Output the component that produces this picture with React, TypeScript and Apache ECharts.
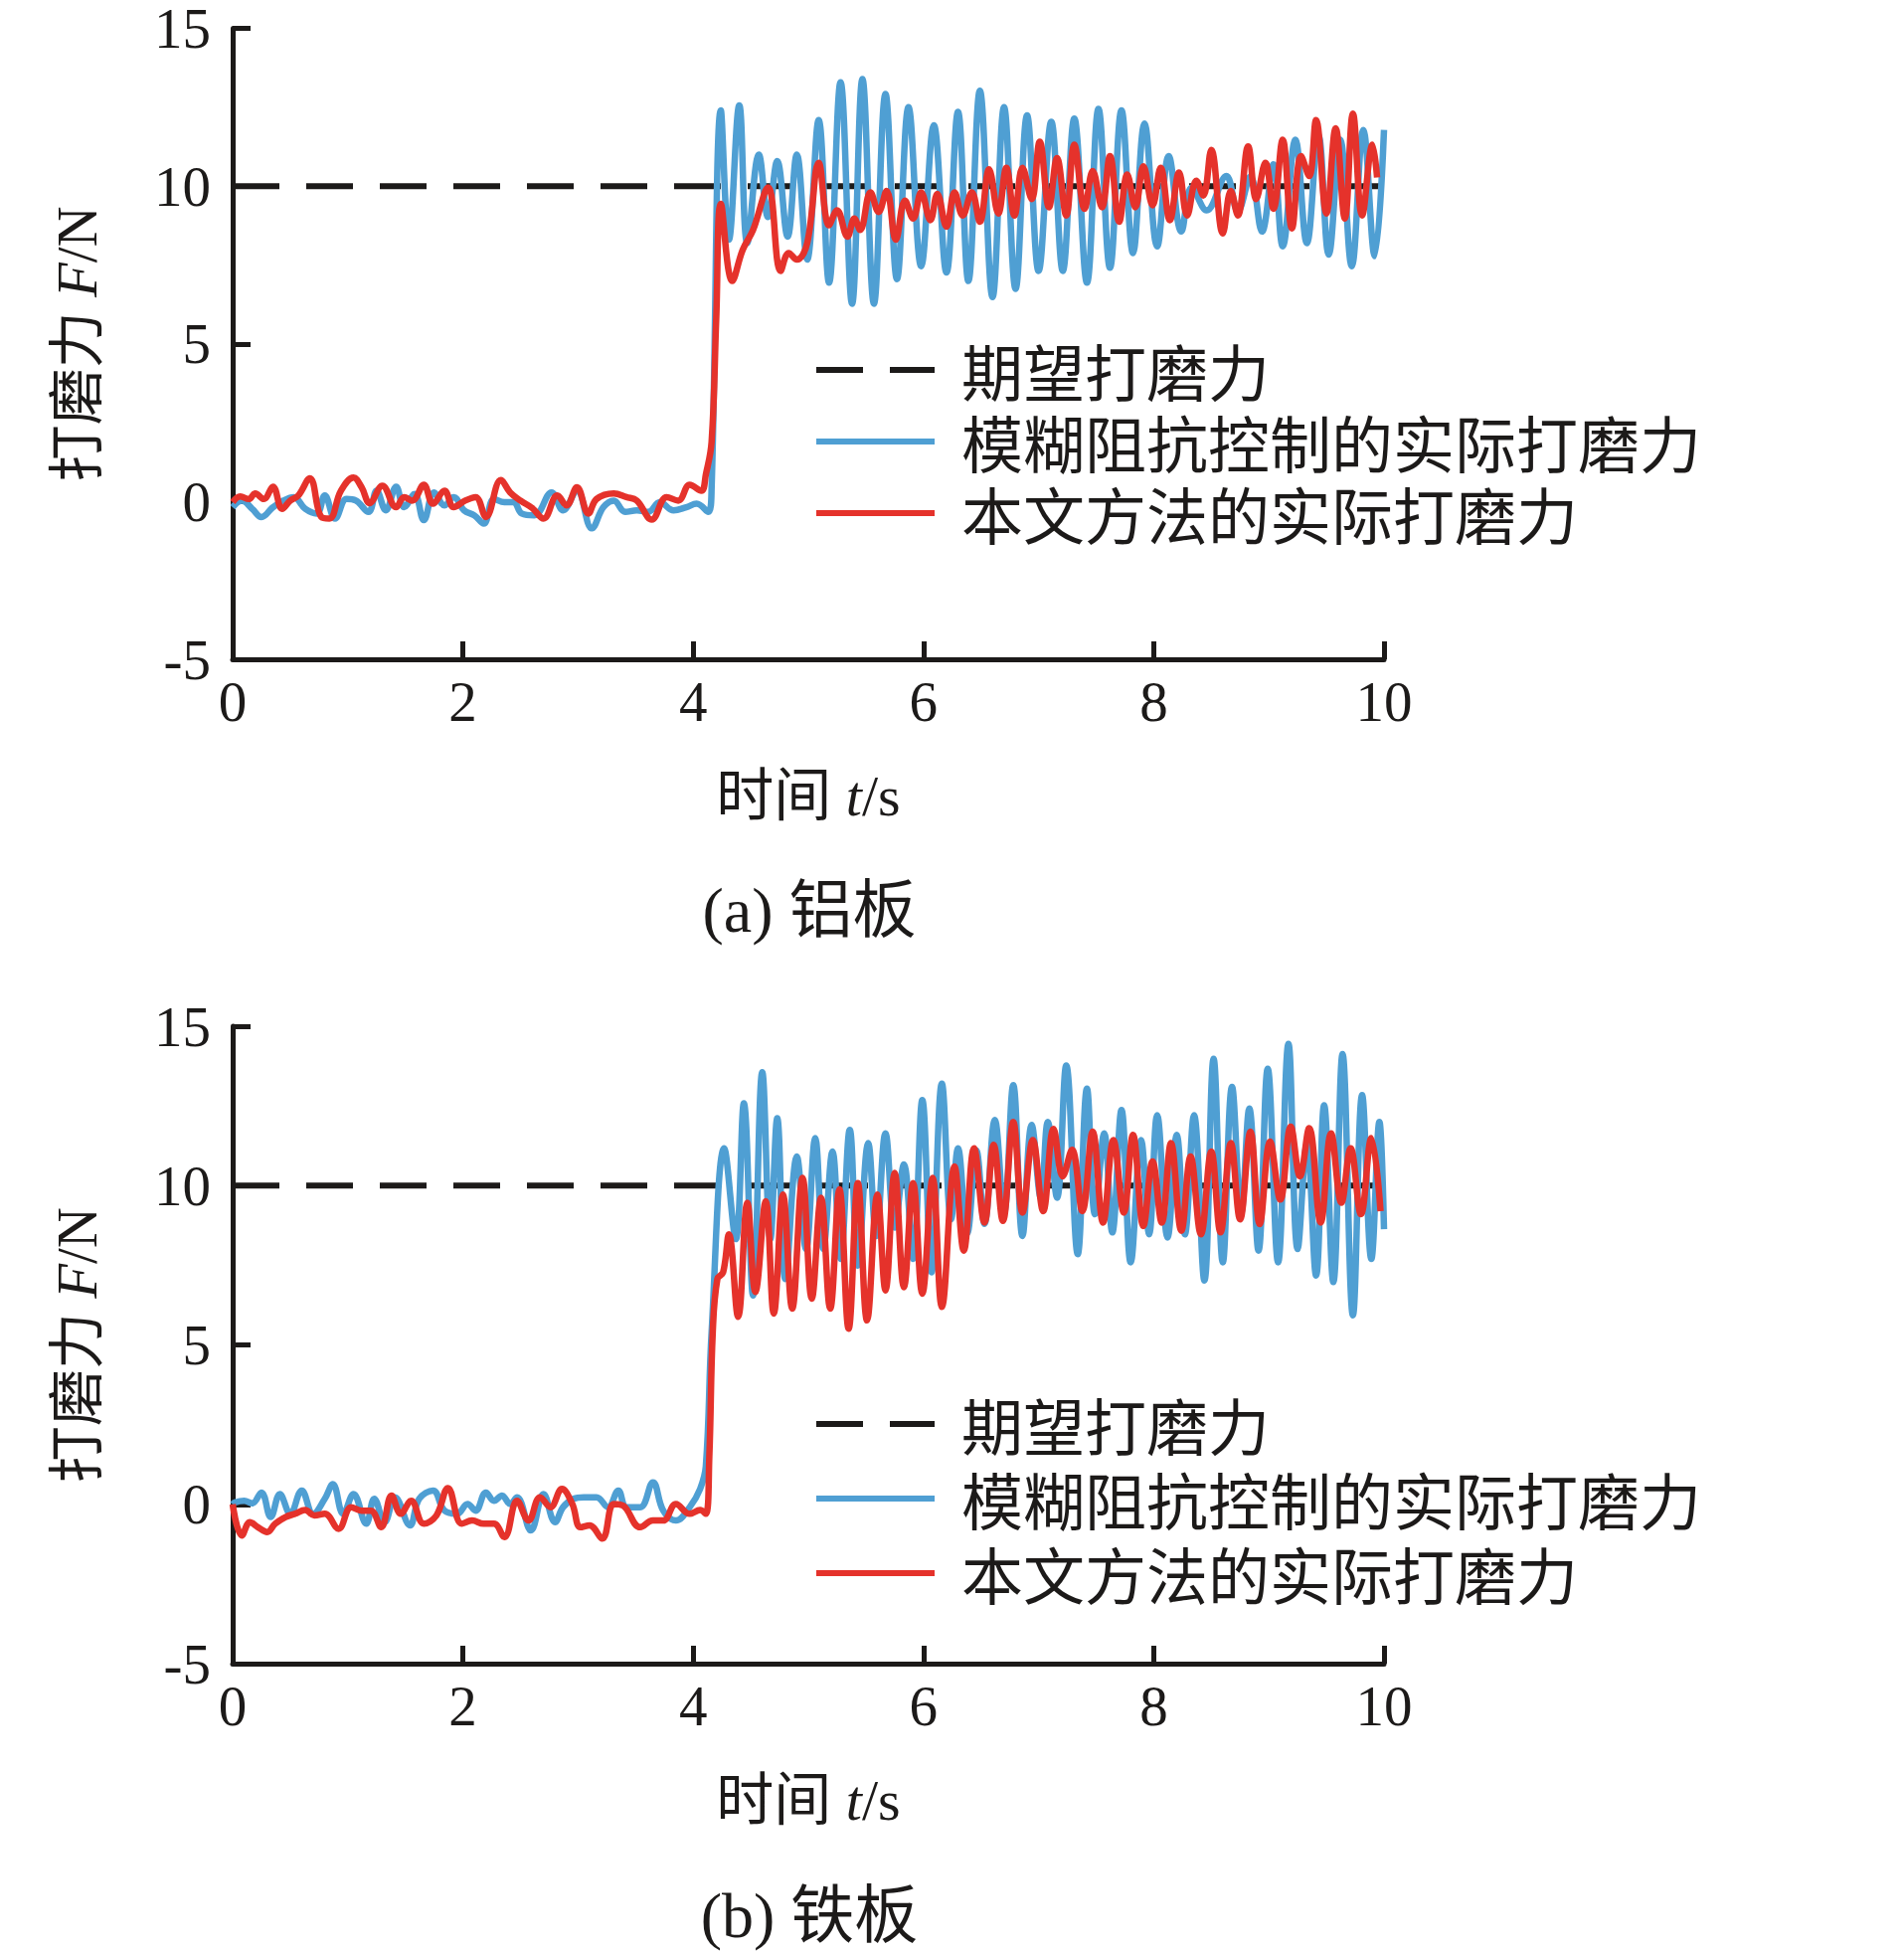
import React, { useEffect, useRef } from "react";
import * as echarts from "echarts";

// ---------- data ----------
const xTickValues = [0, 2, 4, 6, 8, 10];
const yTickValues = [-5, 0, 5, 10, 15];
const seriesNames = ["期望打磨力", "模糊阻抗控制的实际打磨力", "本文方法的实际打磨力"];
const captions = ["(a) 铝板", "(b) 铁板"];

const desiredForce: number[][] = [[0, 10], [10, 10]];

// (a) aluminium plate — fuzzy impedance control (blue)
const aluFuzzy: number[][] = [
  [0, -0.18], [0.08, 0.03], [0.17, -0.23], [0.25, -0.49], [0.35, -0.18], [0.44, 0.03], [0.53, 0.14], [0.63, -0.23],
  [0.73, -0.38], [0.8, 0.19], [0.89, -0.54], [0.99, 0.08], [1.07, 0.03], [1.18, -0.33], [1.25, 0.34], [1.33, -0.28],
  [1.42, 0.47], [1.49, -0.18], [1.58, 0.24], [1.66, -0.59], [1.75, 0.29], [1.84, -0.12], [1.92, 0.14], [2.01, -0.28],
  [2.1, -0.44], [2.18, -0.7], [2.27, 0.08], [2.36, -0.02], [2.44, -0.02], [2.51, -0.38], [2.62, -0.44], [2.77, 0.29],
  [2.87, -0.28], [2.99, 0.34], [3.12, -0.85], [3.22, -0.18], [3.31, 0.03], [3.41, -0.33], [3.51, -0.28], [3.61, -0.33],
  [3.71, -0.02], [3.83, -0.28], [3.94, -0.18], [4.03, -0.07], [4.13, -0.33], [4.16, 0.45], [4.24, 12.4], [4.31, 8.3],
  [4.4, 12.56], [4.47, 8.19], [4.57, 11.0], [4.65, 9.02], [4.73, 10.79], [4.82, 8.4], [4.9, 11.0], [4.99, 7.67],
  [5.09, 12.09], [5.18, 6.94], [5.28, 13.29], [5.38, 6.27], [5.47, 13.39], [5.57, 6.27], [5.67, 12.92], [5.77, 7.05],
  [5.87, 12.5], [5.98, 7.46], [6.09, 11.93], [6.2, 7.26], [6.3, 12.35], [6.39, 6.99], [6.49, 13.02], [6.6, 6.48],
  [6.7, 12.5], [6.8, 6.74], [6.9, 12.24], [7.0, 7.31], [7.11, 12.04], [7.21, 7.31], [7.31, 12.14], [7.42, 6.94],
  [7.52, 12.45], [7.62, 7.41], [7.72, 12.4], [7.82, 7.88], [7.92, 11.98], [8.03, 8.09], [8.13, 10.95], [8.24, 8.56],
  [8.33, 9.96], [8.46, 9.23], [8.63, 10.32], [8.73, 9.2], [8.84, 10.3], [8.94, 8.56], [9.04, 10.69], [9.12, 8.09],
  [9.23, 11.47], [9.33, 8.19], [9.43, 11.62], [9.52, 7.83], [9.62, 11.47], [9.72, 7.46], [9.82, 11.78], [9.92, 7.78],
  [10.0, 11.78],
];

// (a) aluminium plate — proposed method (red)
const aluProposed: number[][] = [
  [0, -0.02], [0.066, 0.16], [0.14, 0.08], [0.196, 0.26], [0.27, 0.08], [0.35, 0.47], [0.43, -0.23], [0.5, 0.03],
  [0.57, 0.19], [0.67, 0.74], [0.77, -0.49], [0.84, -0.54], [0.94, 0.34], [1.05, 0.76], [1.12, 0.45], [1.19, -0.05],
  [1.3, 0.5], [1.42, -0.18], [1.49, 0.14], [1.56, 0.03], [1.66, 0.53], [1.74, -0.07], [1.84, 0.34], [1.92, -0.18],
  [2.02, 0.03], [2.11, 0.14], [2.2, -0.49], [2.33, 0.68], [2.41, 0.29], [2.5, 0.03], [2.6, -0.2], [2.7, -0.54],
  [2.82, 0.19], [2.9, -0.12], [2.99, 0.45], [3.09, -0.38], [3.16, 0.08], [3.31, 0.26], [3.42, 0.14], [3.51, 0.03],
  [3.64, -0.57], [3.77, 0.14], [3.87, 0.03], [3.97, 0.53], [4.07, 0.34], [4.11, 0.86], [4.16, 1.9], [4.2, 5.8],
  [4.24, 9.44], [4.34, 6.99], [4.43, 7.98], [4.52, 8.61], [4.65, 9.96], [4.76, 7.31], [4.83, 7.88], [4.9, 7.67],
  [4.99, 8.19], [5.09, 10.74], [5.18, 8.76], [5.25, 9.23], [5.34, 8.4], [5.4, 8.97], [5.45, 8.61], [5.54, 9.8],
  [5.61, 9.18], [5.68, 9.85], [5.76, 8.3], [5.84, 9.54], [5.91, 8.97], [5.98, 9.8], [6.06, 8.92], [6.12, 9.75],
  [6.2, 8.71], [6.27, 9.8], [6.34, 9.07], [6.42, 9.8], [6.49, 8.87], [6.57, 10.53], [6.65, 9.13], [6.72, 10.58],
  [6.79, 9.07], [6.86, 10.58], [6.94, 9.59], [7.01, 11.41], [7.09, 9.33], [7.16, 10.89], [7.24, 9.07], [7.31, 11.31],
  [7.4, 9.28], [7.47, 10.48], [7.55, 9.33], [7.62, 10.95], [7.7, 8.87], [7.77, 10.37], [7.84, 9.33], [7.91, 10.63],
  [7.99, 9.39], [8.06, 10.58], [8.14, 8.92], [8.22, 10.43], [8.29, 9.07], [8.37, 10.17], [8.43, 9.7], [8.5, 11.15],
  [8.6, 8.5], [8.67, 9.85], [8.73, 9.07], [8.82, 11.26], [8.89, 9.59], [8.97, 10.74], [9.04, 9.28], [9.12, 11.47],
  [9.2, 8.66], [9.28, 10.95], [9.35, 10.32], [9.41, 12.09], [9.5, 9.13], [9.58, 11.83], [9.66, 8.97], [9.73, 12.3],
  [9.81, 9.07], [9.9, 11.31], [9.94, 10.27],
];

// (b) iron plate — fuzzy impedance control (blue)
const ironFuzzy: number[][] = [
  [0, 0.0], [0.02, 0.06], [0.1, 0.11], [0.17, 0.03], [0.25, 0.37], [0.33, -0.4], [0.41, 0.32], [0.5, -0.3],
  [0.6, 0.43], [0.7, -0.3], [0.8, 0.17], [0.87, 0.63], [0.96, -0.3], [1.05, 0.32], [1.16, -0.61], [1.23, 0.17],
  [1.32, -0.56], [1.41, 0.22], [1.54, -0.66], [1.62, 0.17], [1.74, 0.43], [1.84, -0.2], [1.95, -0.3], [2.04, 0.01],
  [2.11, -0.2], [2.2, 0.37], [2.27, 0.11], [2.34, 0.27], [2.41, 0.01], [2.47, 0.22], [2.59, -0.82], [2.7, 0.32],
  [2.8, -0.56], [2.87, -0.09], [2.96, 0.17], [3.05, 0.22], [3.16, 0.22], [3.26, -0.09], [3.35, 0.43], [3.42, -0.09],
  [3.54, -0.09], [3.65, 0.69], [3.74, -0.2], [3.85, -0.51], [3.97, -0.09], [4.06, 0.48], [4.11, 1.2], [4.16, 5.41],
  [4.27, 11.17], [4.37, 8.32], [4.44, 12.58], [4.52, 6.55], [4.6, 13.56], [4.67, 8.32], [4.73, 12.11], [4.8, 7.07],
  [4.9, 10.91], [4.98, 8.01], [5.06, 11.49], [5.13, 8.01], [5.21, 11.07], [5.28, 7.7], [5.36, 11.75], [5.43, 7.49],
  [5.52, 11.33], [5.59, 8.42], [5.67, 11.64], [5.75, 8.68], [5.83, 10.66], [5.91, 7.7], [5.99, 12.68], [6.07, 7.28],
  [6.16, 13.2], [6.24, 8.94], [6.3, 11.17], [6.38, 8.5], [6.46, 11.1], [6.53, 8.8], [6.62, 12.06], [6.7, 9.15],
  [6.78, 13.15], [6.86, 8.42], [6.94, 11.9], [7.02, 9.6], [7.08, 12.0], [7.16, 9.62], [7.24, 13.77], [7.34, 7.85],
  [7.42, 13.04], [7.49, 9.1], [7.57, 11.64], [7.64, 8.53], [7.72, 12.37], [7.8, 7.59], [7.89, 11.43], [7.96, 8.47],
  [8.03, 12.21], [8.12, 8.37], [8.2, 11.59], [8.27, 8.47], [8.35, 12.21], [8.44, 7.02], [8.52, 13.98], [8.6, 7.59],
  [8.68, 13.1], [8.76, 9.15], [8.83, 12.42], [8.91, 7.96], [8.99, 13.67], [9.08, 7.59], [9.17, 14.45], [9.25, 8.01],
  [9.33, 11.3], [9.41, 7.18], [9.48, 12.52], [9.56, 6.97], [9.64, 14.13], [9.73, 5.93], [9.81, 12.84], [9.89, 7.7],
  [9.96, 12.0], [10.0, 8.63],
];

// (b) iron plate — proposed method (red)
const ironProposed: number[][] = [
  [0, 0.0], [0.08, -0.98], [0.15, -0.56], [0.22, -0.72], [0.3, -0.87], [0.37, -0.61], [0.46, -0.4], [0.54, -0.3],
  [0.63, -0.18], [0.71, -0.35], [0.8, -0.3], [0.92, -0.77], [1.03, -0.09], [1.12, -0.2], [1.2, -0.2], [1.29, -0.72],
  [1.38, 0.27], [1.46, -0.3], [1.55, 0.11], [1.66, -0.61], [1.77, -0.35], [1.87, 0.51], [1.99, -0.61], [2.08, -0.51],
  [2.18, -0.61], [2.27, -0.61], [2.36, -1.03], [2.47, 0.11], [2.57, -0.51], [2.67, 0.22], [2.76, -0.09], [2.86, 0.48],
  [2.95, 0.01], [3.02, -0.72], [3.1, -0.66], [3.21, -1.08], [3.31, 0.01], [3.39, -0.04], [3.54, -0.72], [3.65, -0.51],
  [3.74, -0.51], [3.85, 0.01], [3.97, -0.3], [4.06, -0.18], [4.11, -0.3], [4.14, 1.5], [4.17, 5.41], [4.21, 7.07],
  [4.26, 7.28], [4.31, 8.47], [4.39, 5.88], [4.47, 9.46], [4.54, 6.66], [4.63, 9.51], [4.7, 5.98], [4.78, 9.72],
  [4.86, 6.14], [4.95, 10.24], [5.03, 6.45], [5.11, 9.62], [5.19, 6.14], [5.27, 9.88], [5.35, 5.51], [5.43, 10.08],
  [5.51, 5.77], [5.6, 9.72], [5.67, 6.71], [5.75, 10.4], [5.83, 6.81], [5.91, 10.08], [5.99, 6.61], [6.08, 10.24],
  [6.16, 6.19], [6.27, 10.6], [6.35, 7.96], [6.44, 11.17], [6.53, 8.84], [6.61, 11.28], [6.69, 8.89], [6.78, 12.0],
  [6.86, 9.15], [6.95, 11.43], [7.04, 9.2], [7.13, 11.78], [7.21, 10.29], [7.29, 11.12], [7.38, 9.2], [7.47, 11.69],
  [7.56, 8.84], [7.65, 11.43], [7.74, 9.15], [7.82, 11.59], [7.91, 8.73], [7.99, 10.76], [8.07, 8.84], [8.15, 11.33],
  [8.24, 8.58], [8.32, 10.91], [8.41, 8.47], [8.5, 11.07], [8.58, 8.53], [8.67, 11.33], [8.75, 8.94], [8.84, 11.69],
  [8.92, 8.79], [9.01, 11.38], [9.1, 9.56], [9.19, 11.85], [9.27, 10.29], [9.35, 11.8], [9.45, 8.84], [9.54, 11.64],
  [9.63, 9.46], [9.71, 11.17], [9.8, 9.1], [9.89, 11.49], [9.97, 9.2],
];

// ---------- styling ----------
const INK = "#1c1a19";
const BLUE = "#4f9fd3";
const RED = "#e5322b";
const SERIF = '"Liberation Serif", "Times New Roman", serif';
const CJK = '"Liberation Serif", "Noto Sans CJK SC", sans-serif';
const DASH_ICON = "path://M0,0H47V6H0ZM74,0H119V6H74Z";

const panels = [
  { top: 22, legendTop: 341, legendGap: 10, captionY: 915, fuzzy: aluFuzzy, proposed: aluProposed },
  { top: 1032, legendTop: 1401, legendGap: 13, captionY: 1926, fuzzy: ironFuzzy, proposed: ironProposed },
];

function buildOption() {
  const grid: any[] = [];
  const xAxis: any[] = [];
  const yAxis: any[] = [];
  const series: any[] = [];
  const legend: any[] = [];
  const graphic: any[] = [];

  panels.forEach((p, i) => {
    grid.push({ left: 234, top: p.top, width: 1158, height: 641, containLabel: false });
    xAxis.push({
      type: "value",
      gridIndex: i,
      min: xTickValues[0],
      max: xTickValues[xTickValues.length - 1],
      interval: xTickValues[1] - xTickValues[0],
      axisLine: { show: true, onZero: false, lineStyle: { color: INK, width: 5 } },
      axisTick: { show: true, inside: true, length: 18, lineStyle: { color: INK, width: 5 } },
      axisLabel: { fontSize: 57, lineHeight: 44, fontFamily: SERIF, color: INK, margin: 20 },
      splitLine: { show: false },
      name: "时间 {i|t}{s|/s}",
      nameLocation: "middle",
      nameGap: 108,
      nameTextStyle: {
        fontSize: 58,
        fontFamily: CJK,
        color: INK,
        rich: {
          i: { fontSize: 58, fontFamily: SERIF, fontStyle: "italic", color: INK },
          s: { fontSize: 58, fontFamily: SERIF, color: INK },
        },
      },
    });
    yAxis.push({
      type: "value",
      gridIndex: i,
      min: yTickValues[0],
      max: yTickValues[yTickValues.length - 1],
      interval: yTickValues[1] - yTickValues[0],
      axisLine: { show: true, onZero: false, lineStyle: { color: INK, width: 5 } },
      axisTick: { show: true, inside: true, length: 18, lineStyle: { color: INK, width: 5 } },
      axisLabel: { fontSize: 57, lineHeight: 40, fontFamily: SERIF, color: INK, margin: 22 },
      splitLine: { show: false },
      name: "打磨力 {i|F}{s|/N}",
      nameLocation: "middle",
      nameRotate: 90,
      nameGap: 128,
      nameTextStyle: {
        fontSize: 57,
        fontFamily: CJK,
        color: INK,
        rich: {
          i: { fontSize: 57, fontFamily: SERIF, fontStyle: "italic", color: INK },
          s: { fontSize: 57, fontFamily: SERIF, color: INK },
        },
      },
    });
    series.push(
      {
        name: seriesNames[0],
        type: "line",
        xAxisIndex: i,
        yAxisIndex: i,
        data: desiredForce,
        symbol: "none",
        color: INK,
        lineStyle: { color: INK, width: 6, type: [47, 27], cap: "butt" },
        z: 1,
      },
      {
        name: seriesNames[1],
        type: "line",
        xAxisIndex: i,
        yAxisIndex: i,
        data: p.fuzzy,
        symbol: "none",
        smooth: 0.4,
        color: BLUE,
        lineStyle: { color: BLUE, width: 6.5 },
        z: 2,
      },
      {
        name: seriesNames[2],
        type: "line",
        xAxisIndex: i,
        yAxisIndex: i,
        data: p.proposed,
        symbol: "none",
        smooth: 0.4,
        color: RED,
        lineStyle: { color: RED, width: 6.5 },
        z: 3,
      }
    );
    legend.push({
      orient: "vertical",
      left: 821,
      top: p.legendTop,
      padding: 0,
      itemWidth: 119,
      itemHeight: 6,
      itemGap: p.legendGap,
      selectedMode: false,
      itemStyle: { borderWidth: 0 },
      data: [
        { name: seriesNames[0], icon: DASH_ICON },
        { name: seriesNames[1], icon: "rect" },
        { name: seriesNames[2], icon: "rect" },
      ],
      textStyle: {
        fontSize: 62,
        lineHeight: 62,
        fontFamily: '"Noto Sans CJK SC", sans-serif',
        color: INK,
        padding: [0, 0, 0, 22],
      },
    });
    graphic.push({
      type: "text",
      x: 814,
      y: p.captionY,
      style: {
        text: captions[i],
        fontSize: 64,
        fontFamily: CJK,
        fill: INK,
        align: "center",
        verticalAlign: "middle",
        textAlign: "center",
        textVerticalAlign: "middle",
      },
    });
  });

  return {
    animation: false,
    backgroundColor: "#ffffff",
    grid,
    xAxis,
    yAxis,
    series,
    legend,
    graphic,
  };
}

export default function App() {
  const ref = useRef<HTMLDivElement>(null);
  useEffect(() => {
    document.body.style.margin = "0";
    document.body.style.overflow = "hidden";
    if (!ref.current) return;
    const chart = echarts.init(ref.current, undefined, { renderer: "svg" });
    chart.setOption(buildOption() as any);
    return () => chart.dispose();
  }, []);
  return (
    <div
      ref={ref}
      style={{ position: "absolute", left: 0, top: 0, width: 1915, height: 1964, background: "#fff" }}
    />
  );
}
